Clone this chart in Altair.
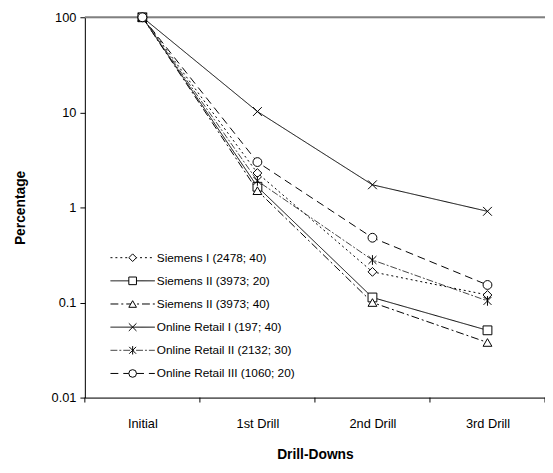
import json
import altair as alt
import pandas as pd

categories = ["Initial", "1st Drill", "2nd Drill", "3rd Drill"]
series_names = [
    "Siemens I (2478; 40)",
    "Siemens II (3973; 20)",
    "Siemens II (3973; 40)",
    "Online Retail I (197; 40)",
    "Online Retail II (2132; 30)",
    "Online Retail III (1060; 20)",
]
siemens_i = [100, 2.3, 0.21, 0.12]
siemens_ii_20 = [100, 1.65, 0.113, 0.051]
siemens_ii_40 = [100, 1.5, 0.1, 0.038]
online_i = [100, 10.2, 1.73, 0.91]
online_ii = [100, 1.9, 0.28, 0.104]
online_iii = [100, 3.0, 0.48, 0.153]
y_ticks = [0.01, 0.1, 1, 10, 100]

all_values = [siemens_i, siemens_ii_20, siemens_ii_40, online_i, online_ii, online_iii]
rows = []
for s, vals in zip(series_names, all_values):
    for i, v in enumerate(vals):
        rows.append({"series": s, "idx": i, "stage": categories[i], "value": v})
df = pd.DataFrame(rows)

FONT = "Liberation Sans"
X_PATH = "M-1,-1L1,1M-1,1L1,-1"
STAR_PATH = "M0,-1.1L0,1.1M-0.9,-0.9L0.9,0.9M-0.9,0.9L0.9,-0.9"

dash_scale = alt.Scale(domain=series_names,
                       range=[[2, 3], [1, 0], [8, 3, 2, 3], [1, 0], [7, 2, 2, 2], [8, 5]])
shape_scale = alt.Scale(domain=series_names,
                        range=["diamond", "square", "triangle-up", X_PATH, STAR_PATH, "circle"])
color_scale = alt.Scale(domain=series_names,
                        range=["black", "black", "black", "black", "#444444", "black"])

label_expr = json.dumps(categories) + "[datum.value]"

x_enc = alt.X("idx:Q",
              scale=alt.Scale(domain=[-0.5, 3.5], nice=False, zero=False),
              axis=alt.Axis(values=[0, 1, 2, 3], labelExpr=label_expr, ticks=False,
                            grid=False, domainColor="black", domainWidth=1,
                            labelFont=FONT, labelFontSize=13, labelColor="black",
                            labelPadding=20, title="Drill-Downs", titleFont=FONT,
                            titleFontSize=14, titleFontWeight="bold", titleColor="black",
                            titlePadding=18))
y_enc = alt.Y("value:Q",
              scale=alt.Scale(type="log", domain=[0.01, 100], nice=False),
              axis=alt.Axis(values=y_ticks, format="~g", grid=False, domainColor="black",
                            tickColor="black", tickSize=5, labelFont=FONT,
                            labelFontSize=13, labelColor="black", labelPadding=4,
                            title="Percentage", titleFont=FONT, titleFontSize=14,
                            titleFontWeight="bold", titleColor="black", titlePadding=24))

base = alt.Chart(df)

top_line = alt.Chart(pd.DataFrame({"value": [y_ticks[-1]]})).mark_rule(
    color="#808080", strokeWidth=2).encode(y=alt.Y("value:Q"))

bounds = pd.DataFrame({"idx": [i - 0.5 for i in range(len(categories) + 1)]})
x_ticks = alt.Chart(bounds).mark_rule(color="black", strokeWidth=1).encode(
    x=alt.X("idx:Q"), y=alt.value(386), y2=alt.value(391))

lines = base.mark_line(strokeWidth=1).encode(
    x=x_enc, y=y_enc,
    strokeDash=alt.StrokeDash("series:N", scale=dash_scale, legend=None),
    color=alt.Color("series:N", scale=color_scale, legend=None),
    detail="series:N",
)
points = base.mark_point(filled=True, fill="white", stroke="black", strokeWidth=1,
                         size=80, opacity=1).encode(
    x=alt.X("idx:Q"), y=alt.Y("value:Q"),
    shape=alt.Shape("series:N", scale=shape_scale, legend=None),
)

# custom legend inside the plot
leg = pd.DataFrame({"series": series_names,
                    "ly": [244 + i * 23.5 for i in range(len(series_names))]})
leg_base = alt.Chart(leg)
leg_lines = leg_base.mark_rule(strokeWidth=1).encode(
    x=alt.value(26), x2=alt.value(71),
    y=alt.Y("ly:Q", scale=None),
    strokeDash=alt.StrokeDash("series:N", scale=dash_scale, legend=None),
    color=alt.Color("series:N", scale=color_scale, legend=None),
)
leg_points = leg_base.mark_point(filled=True, fill="white", stroke="black",
                                 strokeWidth=1, size=60, opacity=1).encode(
    x=alt.value(48.5), y=alt.Y("ly:Q", scale=None),
    shape=alt.Shape("series:N", scale=shape_scale, legend=None),
)
leg_text = leg_base.mark_text(align="left", baseline="middle", font=FONT,
                              fontSize=12, color="black").encode(
    x=alt.value(73), y=alt.Y("ly:Q", scale=None), text="series:N")

chart = alt.layer(top_line, lines, x_ticks, points, leg_lines, leg_points, leg_text).properties(
    width=467, height=386,
    padding={"left": 78, "top": 6, "right": 0, "bottom": 65},
    autosize="none",
).configure_view(stroke=None).configure(background="white")

chart.save("out.html", embed_options={"renderer": "svg", "actions": False})
